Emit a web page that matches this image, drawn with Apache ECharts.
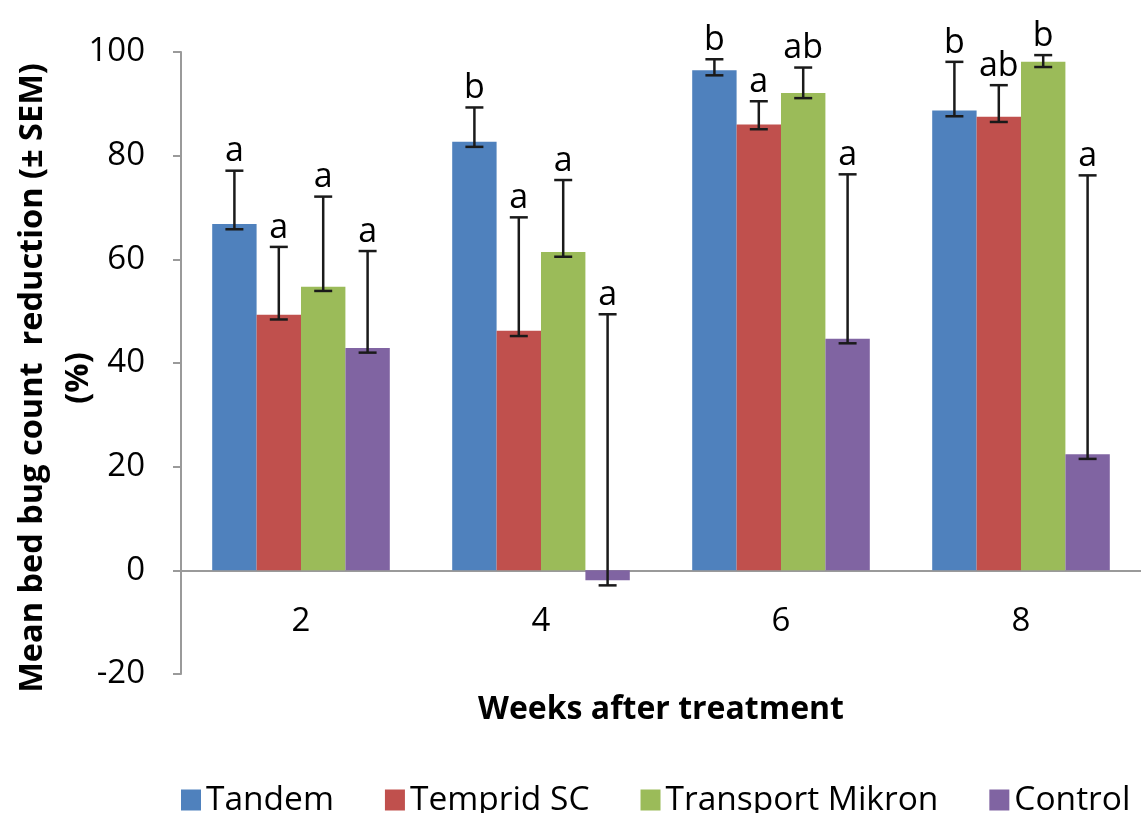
<!DOCTYPE html>
<html>
<head>
<meta charset="utf-8">
<script src="https://cdn.jsdelivr.net/npm/echarts@6/dist/echarts.min.js"></script>
<style>
html,body{margin:0;padding:0;background:#fff;}
#chart{width:1141px;height:813px;}
</style>
</head>
<body>
<div id="chart"></div>
<script>
const categories = ['2', '4', '6', '8'];
const seriesNames = ['Tandem', 'Temprid SC', 'Transport Mikron', 'Control'];
const colors = ['#4F81BD', '#C0504D', '#9BBB59', '#8064A2'];

const tandem    = [66.8, 82.7, 96.5, 88.7];
const temprid   = [49.3, 46.2, 86.0, 87.5];
const transport = [54.7, 61.4, 92.1, 98.1];
const control   = [42.9, -1.9, 44.7, 22.4];

const tandemHigh    = [77.1, 89.3, 98.6, 98.1];
const tandemLow     = [65.8, 81.7, 95.5, 87.6];
const tempridHigh   = [62.4, 68.1, 90.5, 93.6];
const tempridLow    = [48.4, 45.2, 85.1, 86.5];
const transportHigh = [72.1, 75.3, 97.0, 99.4];
const transportLow  = [53.9, 60.5, 91.1, 97.1];
const controlHigh   = [61.6, 49.4, 76.4, 76.2];
const controlLow    = [42.0, -2.9, 43.8, 21.5];

const tandemLetters    = ['a', 'b', 'b', 'b'];
const tempridLetters   = ['a', 'a', 'a', 'ab'];
const transportLetters = ['a', 'a', 'ab', 'b'];
const controlLetters   = ['a', 'a', 'a', 'a'];

const yTitleLines = ['Mean bed bug count  reduction (± SEM)', '(%)'];
const xTitle = 'Weeks after treatment';
const yTicks = { min: -20, max: 100, interval: 20 };

const means = [tandem, temprid, transport, control];
const highs = [tandemHigh, tempridHigh, transportHigh, controlHigh];
const lows = [tandemLow, tempridLow, transportLow, controlLow];
const letters = [tandemLetters, tempridLetters, transportLetters, controlLetters];

const CAT_GAP = 0.26;
const FONT = '"Open Sans", "Liberation Sans", sans-serif';

function makeRender(i) {
  return function (params, api) {
    const idx = api.value(0);
    const x = api.coord([idx, 0])[0];
    const bandW = api.size([1, 0])[0];
    const barW = bandW * (1 - CAT_GAP) / 4;
    const cx = x + (i - 1.5) * barW;
    const yLow = api.coord([idx, api.value(1)])[1];
    const yHigh = api.coord([idx, api.value(2)])[1];
    const cap = 9;
    const st = { stroke: '#1a1a1a', lineWidth: 2.5 };
    return {
      type: 'group',
      children: [
        { type: 'line', shape: { x1: cx, y1: yLow, x2: cx, y2: yHigh }, style: st },
        { type: 'line', shape: { x1: cx - cap, y1: yHigh, x2: cx + cap, y2: yHigh }, style: st },
        { type: 'line', shape: { x1: cx - cap, y1: yLow, x2: cx + cap, y2: yLow }, style: st },
        { type: 'text', x: cx, y: yHigh - 2,
          style: { text: letters[i][params.dataIndex], fill: '#000', fontSize: 34, fontFamily: FONT,
                   align: 'center', verticalAlign: 'bottom' } }
      ]
    };
  };
}

const series = [];
seriesNames.forEach(function (name, i) {
  series.push({
    name: name, type: 'bar', data: means[i], barGap: '0%', barCategoryGap: (CAT_GAP * 100) + '%',
    itemStyle: { color: colors[i] }, z: 2
  });
});
seriesNames.forEach(function (name, i) {
  series.push({
    name: name, type: 'custom', renderItem: makeRender(i), z: 5,
    encode: { x: 0, y: [1, 2] },
    data: categories.map(function (c, k) { return [k, lows[i][k], highs[i][k]]; })
  });
});

const chart = echarts.init(document.getElementById('chart'), null, { renderer: 'canvas' });
chart.setOption({
  animation: false,
  backgroundColor: '#fff',
  grid: { left: 181, right: 0, top: 52, bottom: 139, containLabel: false, outerBoundsMode: 'none' },
  legend: {
    data: seriesNames.map(function (n) { return { name: n, icon: 'rect' }; }),
    left: 176, top: 778, width: 1100, itemWidth: 20, itemHeight: 21, itemGap: 51,
    textStyle: { fontSize: 33.5, fontFamily: FONT, color: '#000' }
  },
  graphic: [
    { type: 'text', x: 33, y: 378, rotation: Math.PI / 2,
      style: { text: yTitleLines[0], fill: '#000', fontSize: 32.5, fontWeight: 'bold', fontFamily: FONT,
               align: 'center', verticalAlign: 'middle' } },
    { type: 'text', x: 79, y: 378, rotation: Math.PI / 2,
      style: { text: yTitleLines[1], fill: '#000', fontSize: 32.5, fontWeight: 'bold', fontFamily: FONT,
               align: 'center', verticalAlign: 'middle' } }
  ],
  xAxis: {
    type: 'category', data: categories,
    axisLine: { onZero: true, lineStyle: { color: '#9a9a9a', width: 2 } },
    axisTick: { show: false },
    axisLabel: { fontSize: 33, fontFamily: FONT, color: '#000', margin: -69 },
    name: xTitle, nameLocation: 'middle', nameGap: 20,
    nameTextStyle: { fontSize: 32, fontWeight: 'bold', fontFamily: FONT, color: '#000' }
  },
  yAxis: {
    type: 'value', min: yTicks.min, max: yTicks.max, interval: yTicks.interval,
    axisLine: { show: true, lineStyle: { color: '#9a9a9a', width: 2 } },
    axisTick: { show: true, length: 8, lineStyle: { color: '#9a9a9a', width: 2 } },
    splitLine: { show: false },
    axisLabel: { fontSize: 33, fontFamily: FONT, color: '#000', margin: 36 }
  },
  series: series
});
</script>
</body>
</html>
